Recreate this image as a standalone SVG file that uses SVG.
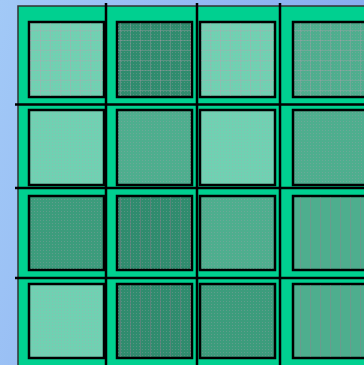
<svg xmlns="http://www.w3.org/2000/svg" width="364" height="365" viewBox="0 0 364 365">
<defs>
<linearGradient id="bg" x1="0" y1="0" x2="1" y2="0.3">
<stop offset="0" stop-color="#a2c9f7"/>
<stop offset="1" stop-color="#86aaee"/>
</linearGradient>
<pattern id="dots" width="3" height="3" patternUnits="userSpaceOnUse">
<rect x="1" y="1" width="1" height="1" fill="#b89cb0" opacity="0.3"/>
</pattern>
<pattern id="grid" width="10" height="10" patternUnits="userSpaceOnUse">
<path d="M0 0.5H10M0.5 0V10" stroke="#c09cb0" stroke-width="1" opacity="0.3" fill="none"/>
</pattern>
<pattern id="vgrid" width="10" height="10" patternUnits="userSpaceOnUse">
<path d="M0.5 0V10" stroke="#a07890" stroke-width="1" opacity="0.35" fill="none"/>
</pattern>
</defs>
<style>
.tile{stroke:#000;stroke-width:2.5}
.l{fill:#70d1b2}
.m{fill:#4eae8e}
.dm{fill:#3c9c7c}
.d{fill:#2f8c6e}
.tx{stroke:none}
.ln{stroke:#000;stroke-width:2.5}
</style>
<rect width="364" height="365" fill="url(#bg)"/>
<rect x="18" y="6" width="350" height="360" fill="#00d090" stroke="#333" stroke-width="1.5"/>
<g id="tiles">
<g id="r1c1"><rect class="tile l" x="29" y="22" width="75" height="75"/><rect class="tx" x="30" y="23" width="73" height="73" fill="url(#dots)"/><rect class="tx" x="30" y="23" width="73" height="73" fill="url(#grid)"/></g>
<g id="r1c2"><rect class="tile d" x="117" y="22" width="75" height="75"/><rect class="tx" x="118" y="23" width="73" height="73" fill="url(#dots)"/><rect class="tx" x="118" y="23" width="73" height="73" fill="url(#grid)"/></g>
<g id="r1c3"><rect class="tile l" x="200" y="22" width="75" height="75"/><rect class="tx" x="201" y="23" width="73" height="73" fill="url(#dots)"/><rect class="tx" x="201" y="23" width="73" height="73" fill="url(#grid)"/></g>
<g id="r1c4"><rect class="tile m" x="293" y="22" width="80" height="75"/><rect class="tx" x="294" y="23" width="80" height="73" fill="url(#dots)"/><rect class="tx" x="294" y="23" width="80" height="73" fill="url(#grid)"/></g>

<g id="r2c1"><rect class="tile l" x="29" y="110" width="75" height="75"/><rect class="tx" x="30" y="111" width="73" height="73" fill="url(#dots)"/></g>
<g id="r2c2"><rect class="tile m" x="117" y="110" width="75" height="75"/><rect class="tx" x="118" y="111" width="73" height="73" fill="url(#dots)"/></g>
<g id="r2c3"><rect class="tile l" x="200" y="110" width="75" height="75"/><rect class="tx" x="201" y="111" width="73" height="73" fill="url(#dots)"/></g>
<g id="r2c4"><rect class="tile m" x="293" y="110" width="80" height="75"/><rect class="tx" x="294" y="111" width="80" height="73" fill="url(#dots)"/></g>

<g id="r3c1"><rect class="tile dm" x="29" y="196" width="75" height="74"/><rect class="tx" x="30" y="197" width="73" height="72" fill="url(#dots)"/></g>
<g id="r3c2"><rect class="tile d" x="117" y="196" width="75" height="74"/><rect class="tx" x="118" y="197" width="73" height="72" fill="url(#dots)"/><rect class="tx" x="118" y="197" width="73" height="72" fill="url(#vgrid)"/></g>
<g id="r3c3"><rect class="tile m" x="200" y="196" width="75" height="74"/><rect class="tx" x="201" y="197" width="73" height="72" fill="url(#dots)"/></g>
<g id="r3c4"><rect class="tile m" x="293" y="196" width="80" height="74"/><rect class="tx" x="294" y="197" width="80" height="72" fill="url(#vgrid)"/></g>

<g id="r4c1"><rect class="tile l" x="29" y="284" width="75" height="74"/><rect class="tx" x="30" y="285" width="73" height="72" fill="url(#dots)"/></g>
<g id="r4c2"><rect class="tile d" x="117" y="284" width="75" height="74"/><rect class="tx" x="118" y="285" width="73" height="72" fill="url(#dots)"/><rect class="tx" x="118" y="285" width="73" height="72" fill="url(#vgrid)"/></g>
<g id="r4c3"><rect class="tile dm" x="200" y="284" width="75" height="74"/><rect class="tx" x="201" y="285" width="73" height="72" fill="url(#dots)"/></g>
<g id="r4c4"><rect class="tile m" x="293" y="284" width="80" height="74"/><rect class="tx" x="294" y="285" width="80" height="72" fill="url(#vgrid)"/></g>
</g>
<g id="lines">
<line class="ln" x1="106" y1="3" x2="106" y2="365"/>
<line class="ln" x1="197" y1="3" x2="197" y2="365" stroke-width="3"/>
<line class="ln" x1="280" y1="3" x2="280" y2="365"/>
<line class="ln" x1="15" y1="104.5" x2="364" y2="104.5"/>
<line class="ln" x1="15" y1="188" x2="364" y2="188"/>
<line class="ln" x1="15" y1="278" x2="364" y2="278"/>
</g>
</svg>
